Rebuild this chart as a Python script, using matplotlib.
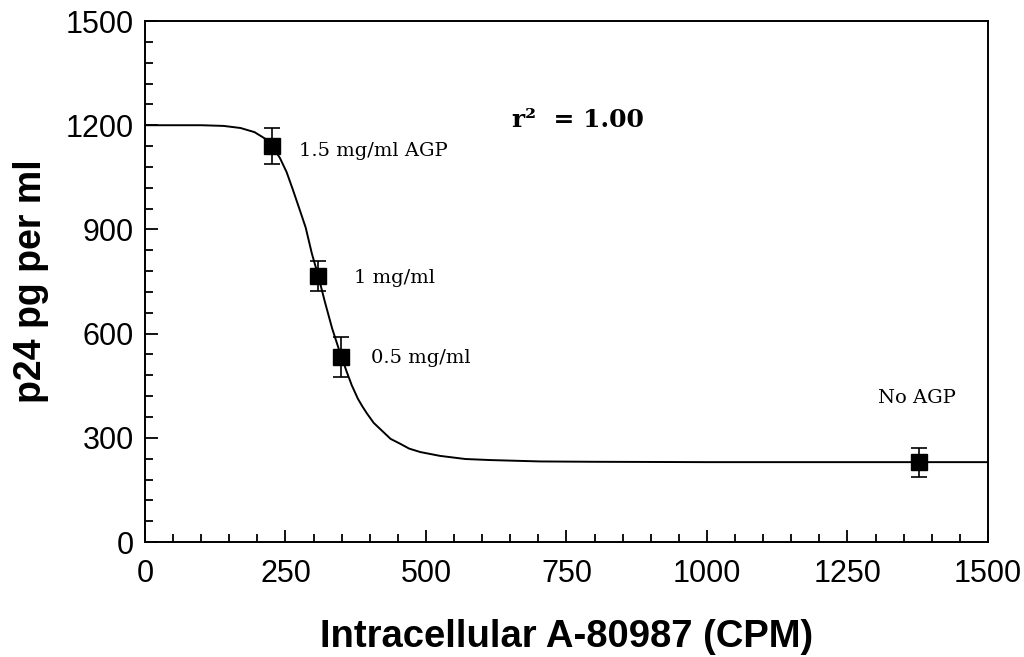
import numpy as np
import matplotlib
matplotlib.use("Agg")
import matplotlib.pyplot as plt
from matplotlib.ticker import MultipleLocator

# measured points (CPM vs p24)
cpm = [226, 308, 349, 1377]
p24 = [1140, 766, 533, 230]
p24_err = [53, 43, 58, 42]
labels = ['1.5 mg/ml AGP', '1 mg/ml', '0.5 mg/ml', 'No AGP']
label_x = [274, 372, 402, 1374]
label_y = [1126, 760, 530, 415]

# fitted curve
curve_x = [0, 50, 100, 140, 170, 195, 213, 226, 240, 252, 263, 275, 286, 297,
           308, 320, 333, 347, 359, 368, 379, 387, 395, 407, 420, 437, 454,
           470, 490, 525, 570, 614, 703, 800, 1000, 1500]
curve_y = [1200, 1200, 1200, 1198, 1192, 1180, 1162, 1140, 1106, 1065, 1015,
           958, 905, 830, 768, 692, 615, 545, 490, 451, 412, 390, 370, 343,
           323, 297, 283, 269, 259, 248, 239, 236, 232, 231, 230, 230]

fig = plt.figure(figsize=(10.24, 6.57), dpi=100)
ax = fig.add_axes([0.1416, 0.175, 0.8232, 0.793])

ax.plot(curve_x, curve_y, color='black', lw=1.4, zorder=2)
ax.errorbar(cpm, p24, yerr=p24_err, fmt='s', color='black', ms=11,
            ecolor='black', elinewidth=1.2, capsize=6, capthick=1.2, zorder=3)

for t, lx, ly in zip(labels, label_x, label_y):
    ha = 'center' if t == 'No AGP' else 'left'
    ax.text(lx, ly, t, family='DejaVu Serif', fontsize=14, ha=ha, va='center')

ax.text(653, 1215, 'r²  = 1.00', family='DejaVu Serif', fontsize=18,
        fontweight='bold', ha='left', va='center')

ax.set_xlim(0, 1500)
ax.set_ylim(0, 1500)
ax.xaxis.set_major_locator(MultipleLocator(250))
ax.xaxis.set_minor_locator(MultipleLocator(50))
ax.yaxis.set_major_locator(MultipleLocator(300))
ax.yaxis.set_minor_locator(MultipleLocator(60))

ax.tick_params(which='both', direction='in', top=False, right=False, width=1.3)
ax.tick_params(which='major', length=9)
ax.tick_params(which='minor', length=6)
ax.tick_params(axis='x', pad=12)
ax.tick_params(axis='y', pad=8)
for lab in ax.get_xticklabels() + ax.get_yticklabels():
    lab.set_family('Liberation Sans')
    lab.set_fontsize(22)
for s in ax.spines.values():
    s.set_linewidth(1.4)

ax.set_xlabel('Intracellular A-80987 (CPM)', family='Liberation Sans',
              fontsize=27.5, fontweight='bold', labelpad=22)
ax.set_ylabel('p24 pg per ml', family='Liberation Sans',
              fontsize=27, fontweight='bold', labelpad=12)

fig.savefig('out.png', dpi=100)
